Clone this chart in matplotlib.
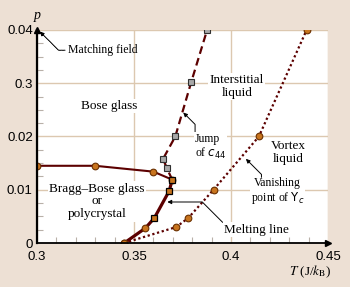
import numpy as np
import matplotlib.pyplot as plt
from matplotlib.ticker import MultipleLocator

# melting line (solid)
melt_T = [0.345, 0.3559, 0.3605, 0.3682, 0.3697]
melt_p = [0.0, 0.0028, 0.0047, 0.0098, 0.0119]

# Bragg-Bose glass / Bose glass boundary
bbg_T = [0.300, 0.330, 0.360, 0.3697]
bbg_p = [0.0145, 0.0145, 0.0134, 0.0119]

# jump of c44 (dashed)
c44_T = [0.3697, 0.367, 0.365, 0.3713, 0.3795, 0.3877]
c44_p = [0.0119, 0.0140, 0.0158, 0.0200, 0.0302, 0.0400]

# vanishing point of Upsilon_c (dotted)
vc_T = [0.345, 0.3718, 0.378, 0.391, 0.4144, 0.439]
vc_p = [0.0, 0.0030, 0.0047, 0.0100, 0.0200, 0.0400]

xticks = [0.3, 0.35, 0.4, 0.45]
xtick_labels = ['0.3', '0.35', '0.4', '0.45']
yticks = [0.0, 0.01, 0.02, 0.03, 0.04]
ytick_labels = ['0', '0.01', '0.02', '0.3', '0.04']

bg = '#ede0d4'
line_c = '#5c0000'
orange = '#c8741e'
grid_c = '#dcc8b0'
serif = 'Liberation Serif'

plt.rcParams['font.family'] = 'Liberation Sans'

fig = plt.figure(figsize=(3.5, 2.87), dpi=100, facecolor=bg)
ax = fig.add_axes([0.1057, 0.1533, 0.8313, 0.7422])
ax.set_xlim(0.3, 0.45)
ax.set_ylim(0, 0.04)
ax.set_facecolor('white')

ax.set_xticks(xticks)
ax.set_xticklabels(xtick_labels)
ax.set_yticks(yticks)
ax.set_yticklabels(ytick_labels)
ax.xaxis.set_minor_locator(MultipleLocator(0.01))
ax.yaxis.set_minor_locator(MultipleLocator(0.0025))
ax.tick_params(which='major', length=0, labelsize=9.5)
ax.tick_params(axis='x', which='major', pad=6)
ax.tick_params(axis='y', which='major', pad=3)
ax.tick_params(which='minor', direction='in', length=4, color='#b8b0a8', width=0.8)
ax.grid(True, which='major', color=grid_c, linewidth=1.0)
ax.set_axisbelow(True)

for s in ['top', 'right']:
    ax.spines[s].set_visible(False)
ax.spines['left'].set_linewidth(1.6)
ax.spines['bottom'].set_linewidth(1.3)
ax.spines['left'].set_zorder(5)
ax.spines['bottom'].set_zorder(5)
ax.plot([0], [1], marker='^', color='black', markersize=5, transform=ax.transAxes, clip_on=False, zorder=6)
ax.plot([1], [0], marker='>', color='black', markersize=5, transform=ax.transAxes, clip_on=False, zorder=6)

# curves
ax.plot(vc_T, vc_p, color=line_c, lw=1.6, linestyle=(0, (1, 1.2)), zorder=3)
ax.plot(vc_T, vc_p, 'o', ms=4.8, mfc=orange, mec='#6a3000', mew=0.8, zorder=4)
ax.plot(c44_T, c44_p, color=line_c, lw=1.6, linestyle=(0, (3.5, 2)), zorder=3)
ax.plot(c44_T[1:], c44_p[1:], 's', ms=4.5, mfc='#a8a8a8', mec='#303030', mew=0.8, zorder=4)
ax.plot(bbg_T, bbg_p, color=line_c, lw=1.5, zorder=3)
ax.plot(bbg_T, bbg_p, 'o', ms=4.8, mfc=orange, mec='#6a3000', mew=0.8, zorder=4)
ax.plot(melt_T, melt_p, color=line_c, lw=2.3, zorder=3)
ax.plot(melt_T[:2], melt_p[:2], 'o', ms=4.8, mfc=orange, mec='#6a3000', mew=0.8, zorder=4)
ax.plot(melt_T[2:], melt_p[2:], 's', ms=4.8, mfc=orange, mec='black', mew=0.9, zorder=4)

box = dict(boxstyle='square,pad=0.1', fc='white', ec='none')
tk = dict(family=serif, fontsize=9.5, zorder=4)

ax.text(0.3374, 0.0257, 'Bose glass', ha='center', va='center', bbox=box, **tk)
ax.text(0.403, 0.0294, 'Interstitial\nliquid', ha='center', va='center', linespacing=1.1, bbox=box, **tk)
ax.text(0.4297, 0.0170, 'Vortex\nliquid', ha='center', va='center', linespacing=1.1, bbox=box, **tk)
ax.text(0.3308, 0.0078, 'Bragg\u2013Bose glass\nor\npolycrystal', ha='center', va='center',
        linespacing=1.1, bbox=box, **tk)

arr = dict(arrowstyle='-|>', color='black', lw=0.7, mutation_scale=6, shrinkA=0, shrinkB=0)

ax.annotate('Matching field', xy=(0.3015, 0.0397), xytext=(0.3159, 0.0362),
            ha='left', va='center', family=serif, fontsize=8.5,
            arrowprops=dict(arr, linestyle=(0, (1, 0.6)), relpos=(0, 0.5),
                            connectionstyle='angle,angleA=0,angleB=-45,rad=0'), annotation_clip=False)
ax.annotate('Jump\nof $c_{44}$', xy=(0.3754, 0.0245), xytext=(0.3815, 0.0181),
            ha='left', va='center', family=serif, fontsize=8.5, linespacing=1.1, bbox=box,
            arrowprops=dict(arr, relpos=(0, 1), connectionstyle='angle,angleA=90,angleB=135,rad=0'))
ax.annotate('Vanishing\npoint of $\\Upsilon_c$', xy=(0.4077, 0.0158), xytext=(0.424, 0.0096),
            ha='center', va='center', family=serif, fontsize=8.5, linespacing=1.1, bbox=box,
            arrowprops=dict(arr, relpos=(0.2, 1), connectionstyle='angle,angleA=90,angleB=135,rad=0'))
ax.annotate('Melting line', xy=(0.3672, 0.0077), xytext=(0.3964, 0.0025),
            ha='left', va='center', family=serif, fontsize=9.5, bbox=box,
            arrowprops=dict(arr, relpos=(0, 1), connectionstyle='angle,angleA=135,angleB=0,rad=0'))

fig.text(37 / 350, 1 - 16 / 287, 'p', family=serif, style='italic', fontsize=10, ha='center', va='center')
fig.text(310 / 350, 1 - 272 / 287, '$T$ (J/$k_{\\rm B}$)', family=serif, fontsize=9.5, ha='center', va='center',
         math_fontfamily='stix')

fig.savefig('out.png', dpi=100, facecolor=bg)
